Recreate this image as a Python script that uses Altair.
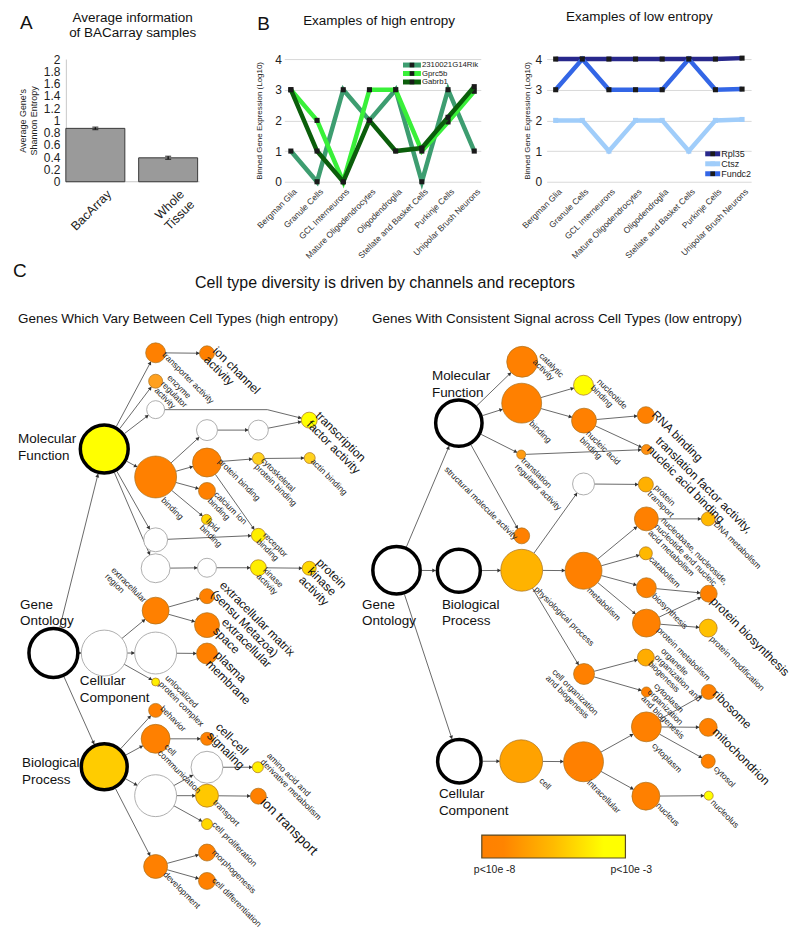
import math
import altair as alt
import pandas as pd

FONT = "Liberation Sans"

# ================= DATA =================
# Panel A
a_categories = ["BacArray", "Whole Tissue"]
a_means = [0.87, 0.39]
a_errors = [0.02, 0.025]
a_ticks = [0, 0.2, 0.4, 0.6, 0.8, 1, 1.2, 1.4, 1.6, 1.8, 2]

# Panel B
cell_types = ["Bergman Glia", "Granule Cells", "GCL Interneurons", "Mature Oligodendrocytes",
              "Oligodendroglia", "Stellate and Basket Cells", "Purkinje Cells", "Unipolar Brush Neurons"]
b_ticks = [0, 1, 2, 3, 4]
high_genes = ["2310021G14Rik", "Gprc5b", "Gabrb1"]
high_rik = [1, 0, 3, 2, 3, 0, 3, 1]
high_gprc5b = [3, 2, 0, 3, 3, 1, 1.95, 2.95]
high_gabrb1 = [3, 1, 0, 2, 1, 1.1, 2.1, 3.1]
low_genes = ["Rpl35", "Ctsz", "Fundc2"]
low_rpl35 = [4, 4, 4, 4, 4, 4, 4, 4.03]
low_ctsz = [2, 2, 1, 2, 2, 1, 2, 2.03]
low_fundc2 = [3, 4, 3, 3, 3, 4, 3, 3.02]

# Panel C : GO network (id, x, y, radius, fill, root)
O = "#ff8000"
W = "#ffffff"
left_nodes = [
    ("L_GO", 53.5, 652.5, 24.5, W, True),
    ("L_MF", 104.5, 448, 24, "#ffff00", True),
    ("L_CC", 104.5, 652.5, 23, W, False),
    ("L_BP", 104.5, 766.5, 23, "#ffcc00", True),
    ("L_transporter", 156, 351.5, 10, O, False),
    ("L_ionch", 207.5, 352, 7.5, O, False),
    ("L_enzyme", 156, 380, 7, "#ffa01e", False),
    ("L_w408", 156, 408.5, 9, W, False),
    ("L_wp", 268, 408.5, 0, W, False),
    ("L_binding", 156, 476, 21, O, False),
    ("L_w538", 156, 539, 12, W, False),
    ("L_w567", 156, 567.5, 14.5, W, False),
    ("L_w429a", 207.5, 429, 10.5, W, False),
    ("L_w429b", 259, 429, 10, W, False),
    ("L_tf", 310, 419, 8, "#ffff00", False),
    ("L_protbind", 207.5, 461.5, 14.5, O, False),
    ("L_cyto", 259, 457.5, 6, "#ffd21e", False),
    ("L_actin", 310.5, 457, 5.5, "#ffd21e", False),
    ("L_calcium", 207.5, 490, 8.5, O, False),
    ("L_lipid", 207, 518.5, 5, "#ffd700", False),
    ("L_receptor", 259, 534.5, 7, "#ffee00", False),
    ("L_w567b", 207.5, 567, 9.5, W, False),
    ("L_kinase", 259, 567, 8, "#ffee00", False),
    ("L_pkinase", 310, 567.5, 7, "#ffd800", False),
    ("L_exreg", 156, 610, 13.5, O, False),
    ("L_w652", 156, 652.5, 21, W, False),
    ("L_unloc", 156, 681.5, 4, "#ffee00", False),
    ("L_ecm", 207.5, 595.5, 7.5, O, False),
    ("L_exspace", 207.5, 624.5, 12.5, O, False),
    ("L_plasma", 207.5, 653, 10.5, O, False),
    ("L_behavior", 156, 710, 7, O, False),
    ("L_cellcomm", 156, 738.5, 14.5, O, False),
    ("L_w795", 156, 795.5, 21, W, False),
    ("L_dev", 156, 866.5, 12, O, False),
    ("L_cellcell", 207.5, 738.5, 6.5, O, False),
    ("L_w767", 207.5, 767, 16, W, False),
    ("L_transport", 207.5, 795.5, 11.5, "#ffc800", False),
    ("L_prolif", 207.5, 824, 5.5, "#ffd700", False),
    ("L_amino", 258.5, 767, 5.5, "#ffee00", False),
    ("L_iontr", 259, 796, 8, O, False),
    ("L_morph", 207.5, 852.5, 8.5, O, False),
    ("L_diff", 207.5, 881, 8.5, O, False),
]
right_nodes = [
    ("R_GO", 397.5, 569.5, 23.75, W, True),
    ("R_MF", 460, 422, 23.25, W, True),
    ("R_BP", 460, 570, 21.5, W, True),
    ("R_CC", 460.5, 761, 21.75, W, True),
    ("R_catal", 523.5, 360.5, 15.5, O, False),
    ("R_binding", 523, 402, 20, O, False),
    ("R_trreg", 522.5, 453.5, 4.5, "#ff9a10", False),
    ("R_struct", 523, 535, 8, O, False),
    ("R_physio", 523, 569.5, 21, "#ffb300", False),
    ("R_nucleotide", 585, 384, 10, "#ffff00", False),
    ("R_nucacid", 585.5, 419.5, 12.5, O, False),
    ("R_rna", 647.5, 414, 8.5, O, False),
    ("R_trfac", 648, 448.5, 5, "#ff9010", False),
    ("R_white", 585, 483, 11, W, False),
    ("R_prottr", 647.5, 483.5, 7.5, "#ffb000", False),
    ("R_metab", 585, 570, 18.5, O, False),
    ("R_nucleob", 648, 518, 12, O, False),
    ("R_catab", 647.5, 552.5, 6.5, "#ffb800", False),
    ("R_biosyn", 648, 587, 10, O, False),
    ("R_protmet", 648, 622.5, 14, O, False),
    ("R_dna", 710, 518, 7, "#ffb800", False),
    ("R_protbio", 710.5, 593, 8.5, O, False),
    ("R_protmod", 710, 627.5, 9, "#ffc000", False),
    ("R_cellorg", 585.5, 673.5, 10.5, O, False),
    ("R_organelle", 647.5, 657, 8.5, "#ffac00", False),
    ("R_cytorg", 648, 691.5, 5, O, False),
    ("R_cell", 522.5, 761, 21.5, "#ffa200", False),
    ("R_intra", 585, 761.5, 20, O, False),
    ("R_cytoplasm", 648, 726.5, 15, O, False),
    ("R_nucleus", 647.5, 796, 14, O, False),
    ("R_ribo", 710.5, 691.5, 7.5, O, False),
    ("R_mito", 710, 727, 9, O, False),
    ("R_cytosol", 710, 761, 7, O, False),
    ("R_nucleolus", 710.5, 795.5, 4.5, "#ffff00", False),
]
edges = [
    ("L_GO", "L_MF"), ("L_GO", "L_CC"), ("L_GO", "L_BP"),
    ("L_MF", "L_transporter"), ("L_MF", "L_enzyme"), ("L_MF", "L_w408"), ("L_MF", "L_binding"),
    ("L_MF", "L_w538"), ("L_MF", "L_w567"),
    ("L_transporter", "L_ionch"), ("L_w408", "L_wp"), ("L_wp", "L_tf"),
    ("L_binding", "L_w429a"), ("L_binding", "L_protbind"), ("L_binding", "L_calcium"), ("L_binding", "L_lipid"),
    ("L_w429a", "L_w429b"), ("L_w429b", "L_tf"),
    ("L_protbind", "L_cyto"), ("L_cyto", "L_actin"), ("L_protbind", "L_receptor"), ("L_w538", "L_receptor"),
    ("L_w567", "L_w567b"), ("L_w567b", "L_kinase"), ("L_kinase", "L_pkinase"),
    ("L_CC", "L_exreg"), ("L_CC", "L_w652"), ("L_CC", "L_unloc"),
    ("L_exreg", "L_ecm"), ("L_exreg", "L_exspace"), ("L_w652", "L_plasma"),
    ("L_BP", "L_behavior"), ("L_BP", "L_cellcomm"), ("L_BP", "L_w795"), ("L_BP", "L_dev"),
    ("L_cellcomm", "L_cellcell"), ("L_w795", "L_w767"), ("L_w795", "L_transport"), ("L_w795", "L_prolif"),
    ("L_w767", "L_amino"), ("L_transport", "L_iontr"), ("L_dev", "L_morph"), ("L_dev", "L_diff"),
    ("R_GO", "R_MF"), ("R_GO", "R_BP"), ("R_GO", "R_CC"),
    ("R_MF", "R_catal"), ("R_MF", "R_binding"), ("R_MF", "R_trreg"), ("R_MF", "R_struct"),
    ("R_binding", "R_nucleotide"), ("R_binding", "R_nucacid"),
    ("R_nucacid", "R_rna"), ("R_nucacid", "R_trfac"), ("R_trreg", "R_trfac"),
    ("R_BP", "R_physio"), ("R_physio", "R_white"), ("R_physio", "R_metab"), ("R_physio", "R_cellorg"),
    ("R_white", "R_prottr"),
    ("R_metab", "R_nucleob"), ("R_metab", "R_catab"), ("R_metab", "R_biosyn"), ("R_metab", "R_protmet"),
    ("R_nucleob", "R_dna"), ("R_biosyn", "R_protbio"), ("R_protmet", "R_protbio"), ("R_protmet", "R_protmod"),
    ("R_cellorg", "R_organelle"), ("R_cellorg", "R_cytorg"),
    ("R_CC", "R_cell"), ("R_cell", "R_intra"), ("R_intra", "R_cytoplasm"), ("R_intra", "R_nucleus"),
    ("R_cytoplasm", "R_ribo"), ("R_cytoplasm", "R_mito"), ("R_cytoplasm", "R_cytosol"),
    ("R_nucleus", "R_nucleolus"),
]
# labels: (text, x, y)
small_labels = [
    ("transporter activity", 167, 349), ("enzyme\nregulator\nactivity", 172, 372), ("binding", 166, 495),
    ("protein binding", 223, 456), ("cytoskeletal\nprotein binding", 266, 455), ("actin binding", 316, 456),
    ("calcium ion\nbinding", 219, 489), ("lipid\nbinding", 211, 516), ("receptor\nbinding", 268, 530),
    ("kinase\nactivity", 268, 565), ("extracellular\nregion", 116, 565), ("unlocalized\nprotein complex", 170, 673),
    ("behavior", 165, 704), ("cell\ncommunication", 169, 742), ("amino acid and\nderivative metabolism", 272, 751),
    ("transport", 218, 798), ("cell proliferation", 217, 820), ("morphogenesis", 217, 848),
    ("cell differentiation", 217, 876), ("development", 168, 870),
    ("catalytic\nactivity", 545, 350), ("binding", 535, 418), ("translation\nregulator activity", 527, 455),
    ("structural molecule activity", 450, 464), ("nucleotide\nbinding", 603, 376), ("nucleic acid\nbinding", 592, 428),
    ("protein\ntransport", 660, 482), ("DNA metabolism", 720, 519),
    ("nucleobase, nucleoside,\nnucleotide and nucleic\nacid metabolism", 667, 515), ("catabolism", 655, 554),
    ("metabolism", 593, 585), ("biosynthesis", 658, 591), ("protein metabolism", 663, 625),
    ("protein modification", 716, 634), ("physiological process", 540, 584),
    ("cell organization\nand biogenesis", 558, 667), ("organelle\norganization and\nbiogenesis", 667, 646),
    ("cytoplasm\norganization\nand biogenesis", 660, 681), ("cytosol", 720, 764), ("cytoplasm", 658, 741),
    ("nucleus", 662, 801), ("nucleolus", 717, 798), ("intracellular", 593, 778), ("cell", 545, 776),
]
large_labels = [
    ("ion channel\nactivity", 219, 344, 12), ("transcription\nfactor activity", 322, 409, 12),
    ("protein\nkinase\nactivity", 323, 556, 12), ("extracellular matrix\n(sensu Metazoa)", 226, 579, 12),
    ("extracellular\nspace", 228, 616, 12), ("plasma\nmembrane", 221, 649, 12), ("cell-cell\nsignaling", 222, 721, 12),
    ("ion transport", 268, 795, 13.5), ("RNA binding", 659, 408, 12),
    ("translation factor activity,\nnucleic acid binding", 663, 434, 12), ("protein biosynthesis", 718, 595, 12),
    ("ribosome", 720, 688, 12), ("mitochondrion", 720, 726, 12),
]
root_labels = [
    ("Molecular\nFunction", 18, 431), ("Gene\nOntology", 20, 597), ("Cellular\nComponent", 80, 674),
    ("Biological\nProcess", 22, 756), ("Molecular\nFunction", 433, 368), ("Gene\nOntology", 363, 597),
    ("Biological\nProcess", 443, 597), ("Cellular\nComponent", 440, 787),
]
c_title = "Cell type diversity is driven by channels and receptors"
c_subtitles = ["Genes Which Vary Between Cell Types (high entropy)",
               "Genes With Consistent Signal across Cell Types (low entropy)"]
panel_letters = ["A", "B", "C"]
cbar_labels = ["p<10e -8", "p<10e -3"]

# ================= STYLES =================
high_colors = ["#3d9d70", "#39f039", "#0b5e0b"]
high_markers = ["#1a1a1a", "#1a1a1a", "#1a1a1a"]
low_colors = ["#28288c", "#a0cdfa", "#3366e6"]
low_markers = ["#1a1a1a", "#a0cdfa", "#1a1a1a"]

# ================= PANEL A =================
dfA = pd.DataFrame({"cat": a_categories, "v": a_means, "e": a_errors})
dfA["lo"] = dfA["v"] - dfA["e"]
dfA["hi"] = dfA["v"] + dfA["e"]
A_W, A_H = 153, 123
xA = alt.X("cat:N", sort=a_categories,
           scale=alt.Scale(type="band", paddingInner=0.19, paddingOuter=0.143, align=0),
           axis=alt.Axis(title=None, labelAngle=-45, labelAlign="right", labelBaseline="middle",
                         labelFontSize=12.5, labelColor="#222", labelExpr="split(datum.label, ' ')",
                         ticks=False, domain=False, labelOffset=14, labelPadding=10))
yaxA = alt.Axis(values=a_ticks, format="~g", grid=False, domain=True, domainColor="#c8c8c8",
                ticks=False, labelFontSize=12, labelColor="#222", labelPadding=6, labelOverlap=False,
                title=["Average Gene's", "Shannon Entropy"], titleFontSize=9, titleFontWeight="normal",
                titleColor="#222", titlePadding=5)
ysA = alt.Scale(domain=[0, 2], nice=False)
bars = alt.Chart(dfA).mark_bar(color="#9a9a9a", stroke="#3a3a3a", strokeWidth=1).encode(
    x=xA, y=alt.Y("v:Q", scale=ysA, axis=yaxA))
errs = alt.Chart(dfA).mark_rule(color="#111", strokeWidth=1.3).encode(
    x=alt.X("cat:N", sort=a_categories), y=alt.Y("lo:Q", scale=ysA, axis=yaxA), y2="hi:Q")
caps_hi = alt.Chart(dfA).mark_tick(color="#111", orient="horizontal", size=6, thickness=1.3).encode(
    x=alt.X("cat:N", sort=a_categories), y=alt.Y("hi:Q", scale=ysA, axis=yaxA))
caps_lo = alt.Chart(dfA).mark_tick(color="#111", orient="horizontal", size=6, thickness=1.3).encode(
    x=alt.X("cat:N", sort=a_categories), y=alt.Y("lo:Q", scale=ysA, axis=yaxA))
baseA = alt.Chart(pd.DataFrame({"v": [0]})).mark_rule(color="#c8c8c8").encode(
    y=alt.Y("v:Q", scale=ysA, axis=yaxA), x=alt.value(0), x2=alt.value(134))
panelA = alt.layer(baseA, bars, errs, caps_hi, caps_lo).properties(
    width=A_W, height=A_H,
    title=alt.TitleParams(["Average information", "of BACarray samples"], dx=-9.5, offset=14, lineHeight=14.5))


# ================= PANEL B =================
def line_panel(genes, series, colors, markers, title, width, pad, title_dx, lab_pad, tit_pad,
               leg_x0, leg_x1, leg_y0, leg_dy, leg_fs, gfield):
    rows = []
    for g, vals in zip(genes, series):
        for c, v in zip(cell_types, vals):
            rows.append({gfield: g, "cell": c, "v": v})
    df = pd.DataFrame(rows)
    mk = dict(zip(genes, markers))
    df["mk"] = df[gfield].map(mk)
    x = alt.X("cell:N", sort=cell_types, scale=alt.Scale(type="point", padding=pad),
              axis=alt.Axis(title=None, labelAngle=-45, labelAlign="right", labelBaseline="middle",
                            labelFontSize=8.5, labelColor="#333", ticks=False, domain=False,
                            labelPadding=8, labelOffset=4, labelLimit=200))
    ysc = alt.Scale(domain=[0, 4], nice=False)
    yax = alt.Axis(values=b_ticks, title="Binned Gene Expression (Log10)", titleFontSize=8,
                   titleFontWeight="normal", titleColor="#222", titlePadding=tit_pad,
                   labelFontSize=12, labelColor="#222", grid=True, gridColor="#d9d9d9",
                   domain=False, ticks=False, labelPadding=lab_pad)
    col = alt.Color(f"{gfield}:N", scale=alt.Scale(domain=genes, range=colors), legend=None)
    layers = []
    for g in genes:
        sub = alt.Chart(df).transform_filter(alt.datum[gfield] == g)
        layers.append(sub.mark_line(strokeWidth=4.5).encode(x=x, y=alt.Y("v:Q", scale=ysc, axis=yax), color=col))
        layers.append(sub.mark_point(shape="square", filled=True, size=26, opacity=1).encode(
            x=x, y=alt.Y("v:Q", scale=ysc, axis=yax), fill=alt.Fill("mk:N", scale=None)))
    legdf = pd.DataFrame({gfield: genes, "mk": markers})
    for i, g in enumerate(genes):
        sub = alt.Chart(legdf).transform_filter(alt.datum[gfield] == g)
        yy = leg_y0 + i * leg_dy
        layers.append(sub.mark_rule(strokeWidth=5).encode(
            x=alt.value(leg_x0), x2=alt.value(leg_x1), y=alt.value(yy), color=col))
        layers.append(sub.mark_point(shape="square", filled=True, size=22, opacity=1).encode(
            x=alt.value((leg_x0 + leg_x1) / 2), y=alt.value(yy), fill=alt.Fill("mk:N", scale=None)))
        layers.append(sub.mark_text(align="left", baseline="middle", fontSize=leg_fs, color="#222").encode(
            x=alt.value(leg_x1 + 1), y=alt.value(yy), text=f"{gfield}:N"))
    return alt.layer(*layers).properties(
        width=width, height=123, title=alt.TitleParams(title, dx=title_dx, offset=26))


panelB1 = line_panel(high_genes, [high_rik, high_gprc5b, high_gabrb1], high_colors, high_markers,
                     "Examples of high entropy", 197, 0.25, -3.5, 3, 11, 119, 137, 6, 8.5, 7.8, "gene_hi")
panelB2 = line_panel(low_genes, [low_rpl35, low_ctsz, low_fundc2], low_colors, low_markers,
                     "Examples of low entropy", 205, 0.34, -9.5, 5, 3, 159, 174, 95, 10, 9, "gene_lo")

# ================= PANEL C =================
# C plot area spans the same width as panel A's plot (column alignment); marks overflow freely.
XS = alt.Scale(domain=[66, 66 + A_W], nice=False, zero=False)
YS = alt.Scale(domain=[260, 920], nice=False, zero=False, reverse=True)


def cx(f):
    return alt.X(f"{f}:Q", scale=XS, axis=None)


def cy(f):
    return alt.Y(f"{f}:Q", scale=YS, axis=None)


all_nodes = left_nodes + right_nodes
pos = {n[0]: n for n in all_nodes}
nrows = []
for nid, x, y, r, fill, root in all_nodes:
    if r <= 0:
        continue
    if root:
        stk, sw = "#000000", 3.5
    elif fill == W:
        stk, sw = "#9a9a9a", 0.8
    else:
        stk, sw = "#a8701e", 0.7
    nrows.append({"id": nid, "x": x, "y": y, "sz": (2 * r) ** 2, "fill": fill, "stk": stk, "sw": sw})
ndf = pd.DataFrame(nrows)

erows = []
for s, t in edges:
    _, xs_, ys_, rs, _, roots = pos[s]
    _, xt, yt, rt, _, roott = pos[t]
    if roots:
        rs += 1.75
    if roott:
        rt += 1.75
    dx, dy = xt - xs_, yt - ys_
    L = math.hypot(dx, dy)
    ux, uy = dx / L, dy / L
    x1, y1 = xs_ + ux * rs, ys_ + uy * rs
    x2, y2 = xt - ux * rt, yt - uy * rt
    ang = (math.degrees(math.atan2(ux, -uy)) + 360) % 360
    erows.append({"x1": x1, "y1": y1, "x2": x2, "y2": y2, "ax": x2 - ux * 2.2, "ay": y2 - uy * 2.2,
                  "ang": ang, "arrow": rt > 0})
edf = pd.DataFrame(erows)

edge_layer = alt.Chart(edf).mark_rule(color="#444", strokeWidth=0.8).encode(
    x=cx("x1"), y=cy("y1"), x2=alt.X2("x2:Q"), y2=alt.Y2("y2:Q"))
arrow_layer = alt.Chart(edf[edf["arrow"]]).mark_point(
    shape="triangle", filled=True, size=16, color="#333", opacity=1).encode(
    x=cx("ax"), y=cy("ay"), angle=alt.Angle("ang:Q", scale=None))
node_layer = alt.Chart(ndf).mark_point(shape="circle", filled=True, opacity=1).encode(
    x=cx("x"), y=cy("y"), size=alt.Size("sz:Q", scale=None), fill=alt.Fill("fill:N", scale=None),
    stroke=alt.Stroke("stk:N", scale=None), strokeWidth=alt.StrokeWidth("sw:Q", scale=None))

sdf = pd.DataFrame(small_labels, columns=["t", "x", "y"])
small_layer = alt.Chart(sdf).mark_text(align="left", baseline="top", angle=45, fontSize=8.5,
                                       lineHeight=9, lineBreak="\n", color="#222").encode(
    x=cx("x"), y=cy("y"), text="t:N")
ldf = pd.DataFrame(large_labels, columns=["t", "x", "y", "fs"])
large_layer = alt.Chart(ldf).mark_text(align="left", baseline="top", angle=45,
                                       lineHeight=12.5, lineBreak="\n", color="#111").encode(
    x=cx("x"), y=cy("y"), text="t:N", size=alt.Size("fs:Q", scale=None))
rdf = pd.DataFrame(root_labels, columns=["t", "x", "y"])
root_layer = alt.Chart(rdf).mark_text(align="left", baseline="top", fontSize=13.5,
                                      lineHeight=16.5, lineBreak="\n", color="#111").encode(
    x=cx("x"), y=cy("y"), text="t:N")
tdf = pd.DataFrame({"t": [c_title], "x": [386], "y": [282]})
title_layer = alt.Chart(tdf).mark_text(align="center", baseline="middle", fontSize=16, color="#111").encode(
    x=cx("x"), y=cy("y"), text="t:N")
stdf = pd.DataFrame({"t": panel_letters + c_subtitles, "x": [20, 258, 13, 18, 373],
                     "y": [21, 22, 270, 318, 318], "fs": [19, 19, 19, 13.5, 13.5]})
sub_layer = alt.Chart(stdf).mark_text(align="left", baseline="middle", color="#111").encode(
    x=cx("x"), y=cy("y"), text="t:N", size=alt.Size("fs:Q", scale=None))

grad = alt.LinearGradient(gradient="linear", x1=0, x2=1, y1=0, y2=0, stops=[
    alt.GradientStop(color="#ff8000", offset=0), alt.GradientStop(color="#ff8400", offset=0.15),
    alt.GradientStop(color="#ffbb00", offset=0.5), alt.GradientStop(color="#ffff00", offset=0.85),
    alt.GradientStop(color="#ffff00", offset=1)])
cbdf = pd.DataFrame({"x1": [483], "x2": [627], "y1": [835], "y2": [858]})
cbar = alt.Chart(cbdf).mark_rect(fill=grad, stroke="#5a4a25", strokeWidth=1.2).encode(
    x=cx("x1"), x2=alt.X2("x2:Q"), y=cy("y1"), y2=alt.Y2("y2:Q"))
cbl = pd.DataFrame({"t": cbar_labels, "x": [475, 612], "y": [870, 870]})
cbar_text = alt.Chart(cbl).mark_text(align="left", baseline="middle", fontSize=10.5, color="#222").encode(
    x=cx("x"), y=cy("y"), text="t:N")

panelC = alt.layer(edge_layer, arrow_layer, node_layer, small_layer, large_layer, root_layer,
                   title_layer, sub_layer, cbar, cbar_text).properties(width=A_W, height=660)

chart = alt.concat(panelA, panelB1, panelB2, panelC, columns=3,
                   spacing={"row": 80, "column": 66}, bounds="flush").resolve_scale(
    x="independent", y="independent", color="independent").properties(
    padding={"left": 5, "top": 0, "right": 0, "bottom": 5}
).configure(font=FONT).configure_view(stroke=None).configure_title(
    fontSize=13.5, fontWeight="normal", font=FONT, color="#111", anchor="middle"
).configure_axis(labelFont=FONT, titleFont=FONT)

chart.save("out.html", embed_options={"renderer": "svg", "actions": False})
